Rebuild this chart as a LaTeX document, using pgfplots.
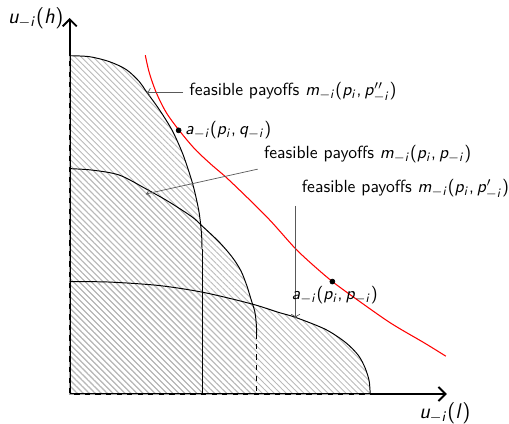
\documentclass[border=0pt]{standalone}
\usepackage{pgfplots}
\pgfplotsset{compat=1.18}
\usetikzlibrary{patterns.meta,arrows.meta}
% sans-serif math: slanted cmss letters, upright cmss operators
\DeclareSymbolFont{operators}{OT1}{cmss}{m}{n}
\DeclareSymbolFont{letters}{OT1}{cmss}{m}{sl}
\DeclareMathSymbol{,}{\mathpunct}{operators}{"2C}

\begin{document}
\sffamily
\begin{tikzpicture}
\begin{axis}[
  scale only axis, width=288pt, height=239.3pt,
  xmin=0, xmax=509, ymin=0, ymax=423, y dir=reverse,
  hide axis, clip=false]
\path (axis cs:0,0) rectangle (axis cs:509,423);

% hatched feasible sets
\tikzset{hatch/.style={draw=none, pattern={Lines[angle=-45,distance=2.4pt,line width=0.5pt]}, pattern color=gray!55}}
\addplot[smooth, hatch] coordinates {(70,56) (90,57) (110,62) (127,70) (140,82) (147,92) (160,110) (173,131) (183,153) (190,173) (195,190) (200,213) (202.5,235) (203,250)} -- (axis cs:203,396) -- (axis cs:70,396) -- cycle;
\addplot[smooth, hatch] coordinates {(70,169.5) (93,171) (120,176) (147,190) (170,203) (193,218) (203,227) (220,243) (233,258) (242,272) (248,287) (252,300) (256,313) (257.5,325) (258,335)} -- (axis cs:258,396) -- (axis cs:70,396) -- cycle;
\addplot[smooth, hatch] coordinates {(70,283) (110,283.5) (160,287) (205,294) (253,305.5) (280,314) (297,319) (327,331) (347,344) (360,357) (367,370) (371,383) (372,396)} -- (axis cs:70,396) -- cycle;

% axes
\addplot[black, line width=1.1pt, -{Straight Barb[length=4pt,width=8pt]}] coordinates {(70,396) (70,18)};
\addplot[black, line width=1.1pt, -{Straight Barb[length=4pt,width=8pt]}] coordinates {(70,396) (449,396)};
\addplot[gray!70, dashed, line width=0.4pt] coordinates {(70,56) (70,396) (372,396)};

% boundaries
\addplot[smooth, black, line width=0.55pt] coordinates {(70,56) (90,57) (110,62) (127,70) (140,82) (147,92) (160,110) (173,131) (183,153) (190,173) (195,190) (200,213) (202.5,235) (203,250)};
\addplot[black, line width=0.5pt] coordinates {(203,250) (203,396)};
\addplot[smooth, black, line width=0.55pt] coordinates {(70,169.5) (93,171) (120,176) (147,190) (170,203) (193,218) (203,227) (220,243) (233,258) (242,272) (248,287) (252,300) (256,313) (257.5,325) (258,335)};
\addplot[black, dashed, line width=0.5pt] coordinates {(258,335) (258,396)};
\addplot[smooth, black, line width=0.55pt] coordinates {(70,283) (110,283.5) (160,287) (205,294) (253,305.5) (280,314) (297,319) (327,331) (347,344) (360,357) (367,370) (371,383) (372,396)};

% red curve
\addplot[smooth, red, line width=0.6pt] coordinates {(146,55.5) (150,73) (157,93) (167,113) (180,131) (196,150) (213,166) (227,178) (250,200) (270,220) (280,231) (297,250) (313,265) (334,283) (360,302) (393,325) (427,345) (448,358)};

% points
\addplot[only marks, mark=*, mark size=1.4pt, black] coordinates {(179.5,131) (334,283)};

% annotations
\draw[->, black!65] (axis cs:184,93) -- (axis cs:147,93);
\draw[->, black!65] (axis cs:259,170) -- (axis cs:146.5,195);
\draw[->, black!65] (axis cs:297,207) -- (axis cs:297,320);

\node[anchor=west, inner sep=0pt] at (axis cs:190,93) {feasible payoffs $m_{-i}(p_i,p''_{-i})$};
\node[anchor=west, inner sep=0pt] at (axis cs:186,131) {$a_{-i}(p_i,q_{-i})$};
\node[anchor=west, inner sep=0pt] at (axis cs:265,155) {feasible payoffs $m_{-i}(p_i,p_{-i})$};
\node[anchor=west, inner sep=0pt] at (axis cs:303,190) {feasible payoffs $m_{-i}(p_i,p'_{-i})$};
\node[anchor=west, inner sep=0pt] at (axis cs:293,297) {$a_{-i}(p_i,p_{-i})$};
\node[anchor=east, inner sep=0pt, font=\large] at (axis cs:64,18) {$u_{-i}(h)$};
\node[anchor=north, inner sep=0pt, font=\large] at (axis cs:447,404) {$u_{-i}(l)$};
\end{axis}
\end{tikzpicture}
\end{document}
